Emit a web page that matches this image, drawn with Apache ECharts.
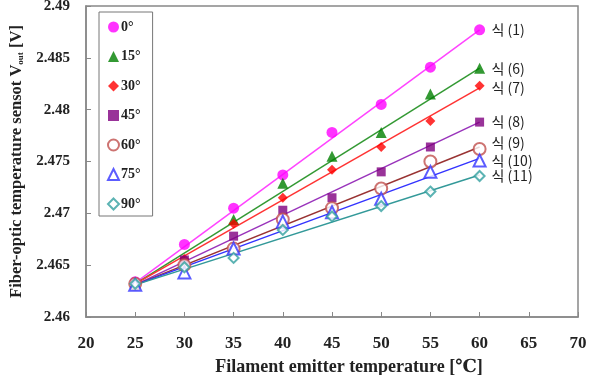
<!DOCTYPE html>
<html>
<head>
<meta charset="utf-8">
<script src="https://cdn.jsdelivr.net/npm/echarts@6/dist/echarts.min.js"></script>
<style>
  html, body { margin: 0; padding: 0; background: #fff; }
  #chart { width: 590px; height: 375px; }
</style>
</head>
<body>
<div id="chart"></div>
<script>
// measured temperatures
var temps = [25, 30, 35, 40, 45, 50, 55, 60]

// sensor output per angle
var angles = ['0°', '15°', '30°', '45°', '60°', '75°', '90°']
var v0 = [2.4634, 2.4670, 2.4705, 2.4737, 2.4778, 2.4805, 2.4841, 2.4877]
var v15 = [2.4633, 2.4653, 2.4694, 2.4729, 2.4755, 2.4778, 2.4815, 2.4840]
var v30 = [2.4633, 2.4656, 2.4690, 2.4715, 2.4742, 2.4764, 2.4789, 2.4823]
var v45 = [2.4631, 2.4655, 2.4678, 2.4703, 2.4715, 2.4740, 2.4764, 2.4788]
var v60 = [2.4632, 2.4650, 2.4666, 2.4694, 2.4705, 2.4724, 2.4750, 2.4762]
var v75 = [2.4631, 2.4643, 2.4666, 2.4692, 2.4701, 2.4714, 2.4740, 2.4751]
var v90 = [2.4632, 2.4648, 2.4657, 2.4684, 2.4697, 2.4707, 2.4721, 2.4736]

// fitted lines (value at 25 and at 60)
var fitStart = [2.4633, 2.4632, 2.4632, 2.4631, 2.4631, 2.4631, 2.4631]
var fitEnd = [2.4877, 2.4840, 2.4821, 2.4788, 2.4764, 2.4753, 2.4737]
var eqLabels = ['식 (1)', '식 (6)', '식 (7)', '식 (8)', '식 (9)', '식 (10)', '식 (11)']

var values = [v0, v15, v30, v45, v60, v75, v90]
var markerColor = ['#ff00ff', '#008000', '#ff0000', '#800080', '#c0504d', '#3333ff', '#33a0a0']
var lineColor = ['#ff44ff', '#339933', '#ff3333', '#9933bb', '#993333', '#3333ff', '#339999']
var symbols = ['circle', 'triangle', 'diamond', 'rect', 'emptyCircle', 'emptyTriangle', 'emptyDiamond']
var sizes = [11, 11, 10, 9, 12, 12, 10]
var labelOffset = [[4, 0], [4, 0], [4, 0], [4, 0], [4, -4], [4, 2], [4, 1]]

var serif = '"Liberation Serif", "DejaVu Serif", serif'

var chart = echarts.init(document.getElementById('chart'))

var series = []
angles.forEach(function (name, i) {
  series.push({
    name: name + '_fit',
    type: 'line',
    data: [[temps[0], fitStart[i]], [temps[temps.length - 1], fitEnd[i]]],
    showSymbol: false,
    symbol: 'none',
    lineStyle: { color: lineColor[i], width: 1.5 },
    silent: true,
    z: 2,
    endLabel: {
      show: true,
      formatter: eqLabels[i],
      offset: labelOffset[i],
      color: '#222',
      fontSize: 14,
      fontFamily: '"Noto Sans CJK KR", ' + serif
    }
  })
})
angles.forEach(function (name, i) {
  series.push({
    name: name,
    type: 'scatter',
    data: temps.map(function (t, k) { return [t, values[i][k]] }),
    symbol: symbols[i],
    symbolSize: sizes[i],
    itemStyle: {
      color: markerColor[i],
      borderColor: markerColor[i],
      borderWidth: symbols[i].indexOf('empty') === 0 ? 1.2 : 0
    },
    z: 3
  })
})

chart.setOption({
  animation: false,
  backgroundColor: '#fff',
  grid: {
    left: 86,
    right: 12,
    top: 6,
    bottom: 58,
    outerBoundsMode: 'none',
    show: true,
    borderColor: '#888',
    borderWidth: 1.5
  },
  legend: {
    data: angles.map(function (a, i) { return { name: a, icon: symbols[i] } }),
    orient: 'vertical',
    left: 99,
    top: 12,
    width: 50,
    itemWidth: 11,
    itemHeight: 11,
    itemGap: 15.5,
    padding: [8, 12, 5, 8],
    borderColor: '#777',
    borderWidth: 1,
    backgroundColor: '#fff',
    textStyle: { fontFamily: serif, fontWeight: 'bold', fontSize: 14, color: '#222', padding: [0, 0, 0, -3] }
  },
  xAxis: {
    type: 'value',
    min: 20,
    max: 70,
    interval: 5,
    name: 'Filament emitter temperature [℃]',
    nameLocation: 'middle',
    nameGap: 41,
    nameTextStyle: { fontFamily: serif, fontWeight: 'bold', fontSize: 18, color: '#222', padding: [0, 0, 0, 34] },
    axisLine: { lineStyle: { color: '#888', width: 1.5 } },
    axisTick: { inside: true, length: 5, lineStyle: { color: '#888' } },
    axisLabel: { fontFamily: serif, fontWeight: 'bold', fontSize: 17, color: '#222', margin: 18 },
    splitLine: { show: false }
  },
  yAxis: {
    type: 'value',
    min: 2.46,
    max: 2.49,
    interval: 0.005,
    name: '{n|Fiber-optic temperature sensot V}{s|out}{n| [V]}',
    nameLocation: 'middle',
    nameGap: 61,
    nameTextStyle: {
      rich: {
        n: { fontFamily: serif, fontWeight: 'bold', fontSize: 16.5, color: '#222' },
        s: { fontFamily: serif, fontWeight: 'bold', fontSize: 9, color: '#222', verticalAlign: 'bottom', padding: [7, 0, 0, 0] }
      }
    },
    axisLine: { show: true, lineStyle: { color: '#888', width: 1.5 } },
    axisTick: { show: true, inside: true, length: 5, lineStyle: { color: '#888' } },
    axisLabel: {
      fontFamily: serif, fontWeight: 'bold', fontSize: 15, color: '#222', margin: 16,
      formatter: function (v) { return String(+v.toFixed(3)) }
    },
    splitLine: { show: false }
  },
  series: series
})
</script>
</body>
</html>
